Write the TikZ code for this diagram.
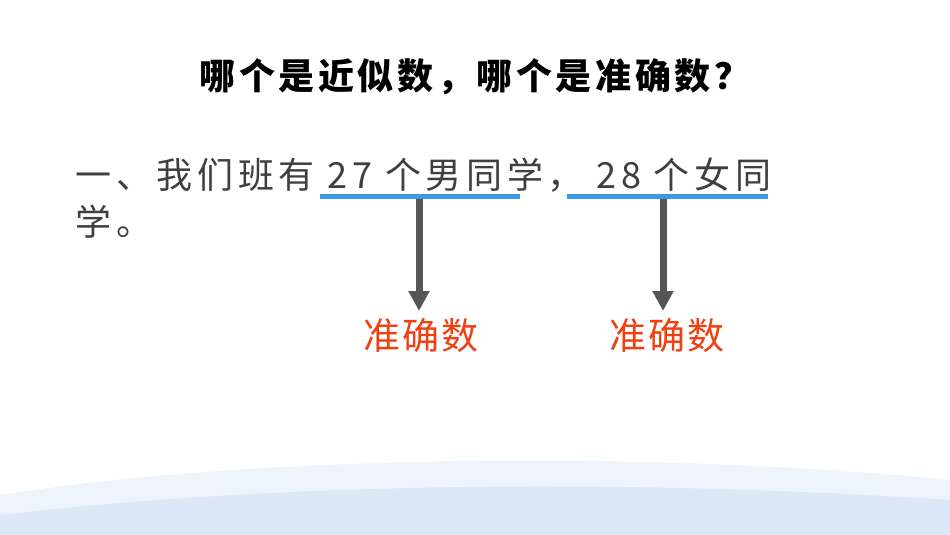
\documentclass[tikz,border=0pt]{standalone}
\usepackage{fontspec}
\setmainfont{Noto Sans CJK SC}
\newfontfamily\spacedfont[LetterSpace=13]{Noto Sans CJK SC}
\newfontfamily\titlefont[LetterSpace=10]{Noto Sans CJK SC}
\newfontfamily\answerfont[LetterSpace=6]{Noto Sans CJK SC}
\usetikzlibrary{arrows.meta}
\definecolor{lineblue}{HTML}{3A9AE6}
\definecolor{arrowgray}{HTML}{555555}
\definecolor{answerred}{HTML}{F0400F}
\definecolor{textgray}{HTML}{3F3F3F}
\definecolor{wavelight}{HTML}{EEF4FC}
\definecolor{wavemid}{HTML}{DCE8F8}
\begin{document}
\begin{tikzpicture}[
                            x=1pt, y=-1pt,
                            line/.style={lineblue, line width=5pt},
                            pointer/.style={-{Triangle[length=20pt,width=20pt]}, arrowgray, line width=7pt},
                            answer/.style={answerred, font=\answerfont\fontsize{37}{40}\selectfont}
                        ]
                        \useasboundingbox (0,0) rectangle (950,535);
                        \fill[white] (0,0) rectangle (950,535);

                        % bottom wave
                        \fill[wavelight] (0,535) -- (0,495) .. controls (250,455) and (650,450) .. (950,480) -- (950,535) -- cycle;
                        \fill[wavemid] (0,535) -- (0,515) .. controls (300,480) and (650,480) .. (950,500) -- (950,535) -- cycle;

                        \node[font=\titlefont\bfseries\fontsize{36}{40}\selectfont] (title) at (475,77) {哪个是近似数，哪个是准确数？};
                        \node[anchor=west, textgray, font=\spacedfont\fontsize{36}{40}\selectfont] (line1) at (72,175) {一、我们班有 27 个男同学， 28 个女同};
                        \node[anchor=west, textgray, font=\spacedfont\fontsize{36}{40}\selectfont] (line2) at (72,222) {学。};

                        \coordinate (boyL) at (320,196);
                        \coordinate (boyR) at (520,196);
                        \coordinate (girlL) at (567,196);
                        \coordinate (girlR) at (768,196);
                        \draw[line] (boyL) -- (boyR);
                        \draw[line] (girlL) -- (girlR);

                        \node[answer] (boy) at (421,335) {准确数};
                        \node[answer] (girl) at (667,335) {准确数};
                        \coordinate (boyTop) at (419,199);
                        \coordinate (girlTop) at (663,199);

                        \draw[pointer] (boyTop) -- (419,311);
                        \draw[pointer] (girlTop) -- (663,311);
                    \end{tikzpicture}
\end{document}
